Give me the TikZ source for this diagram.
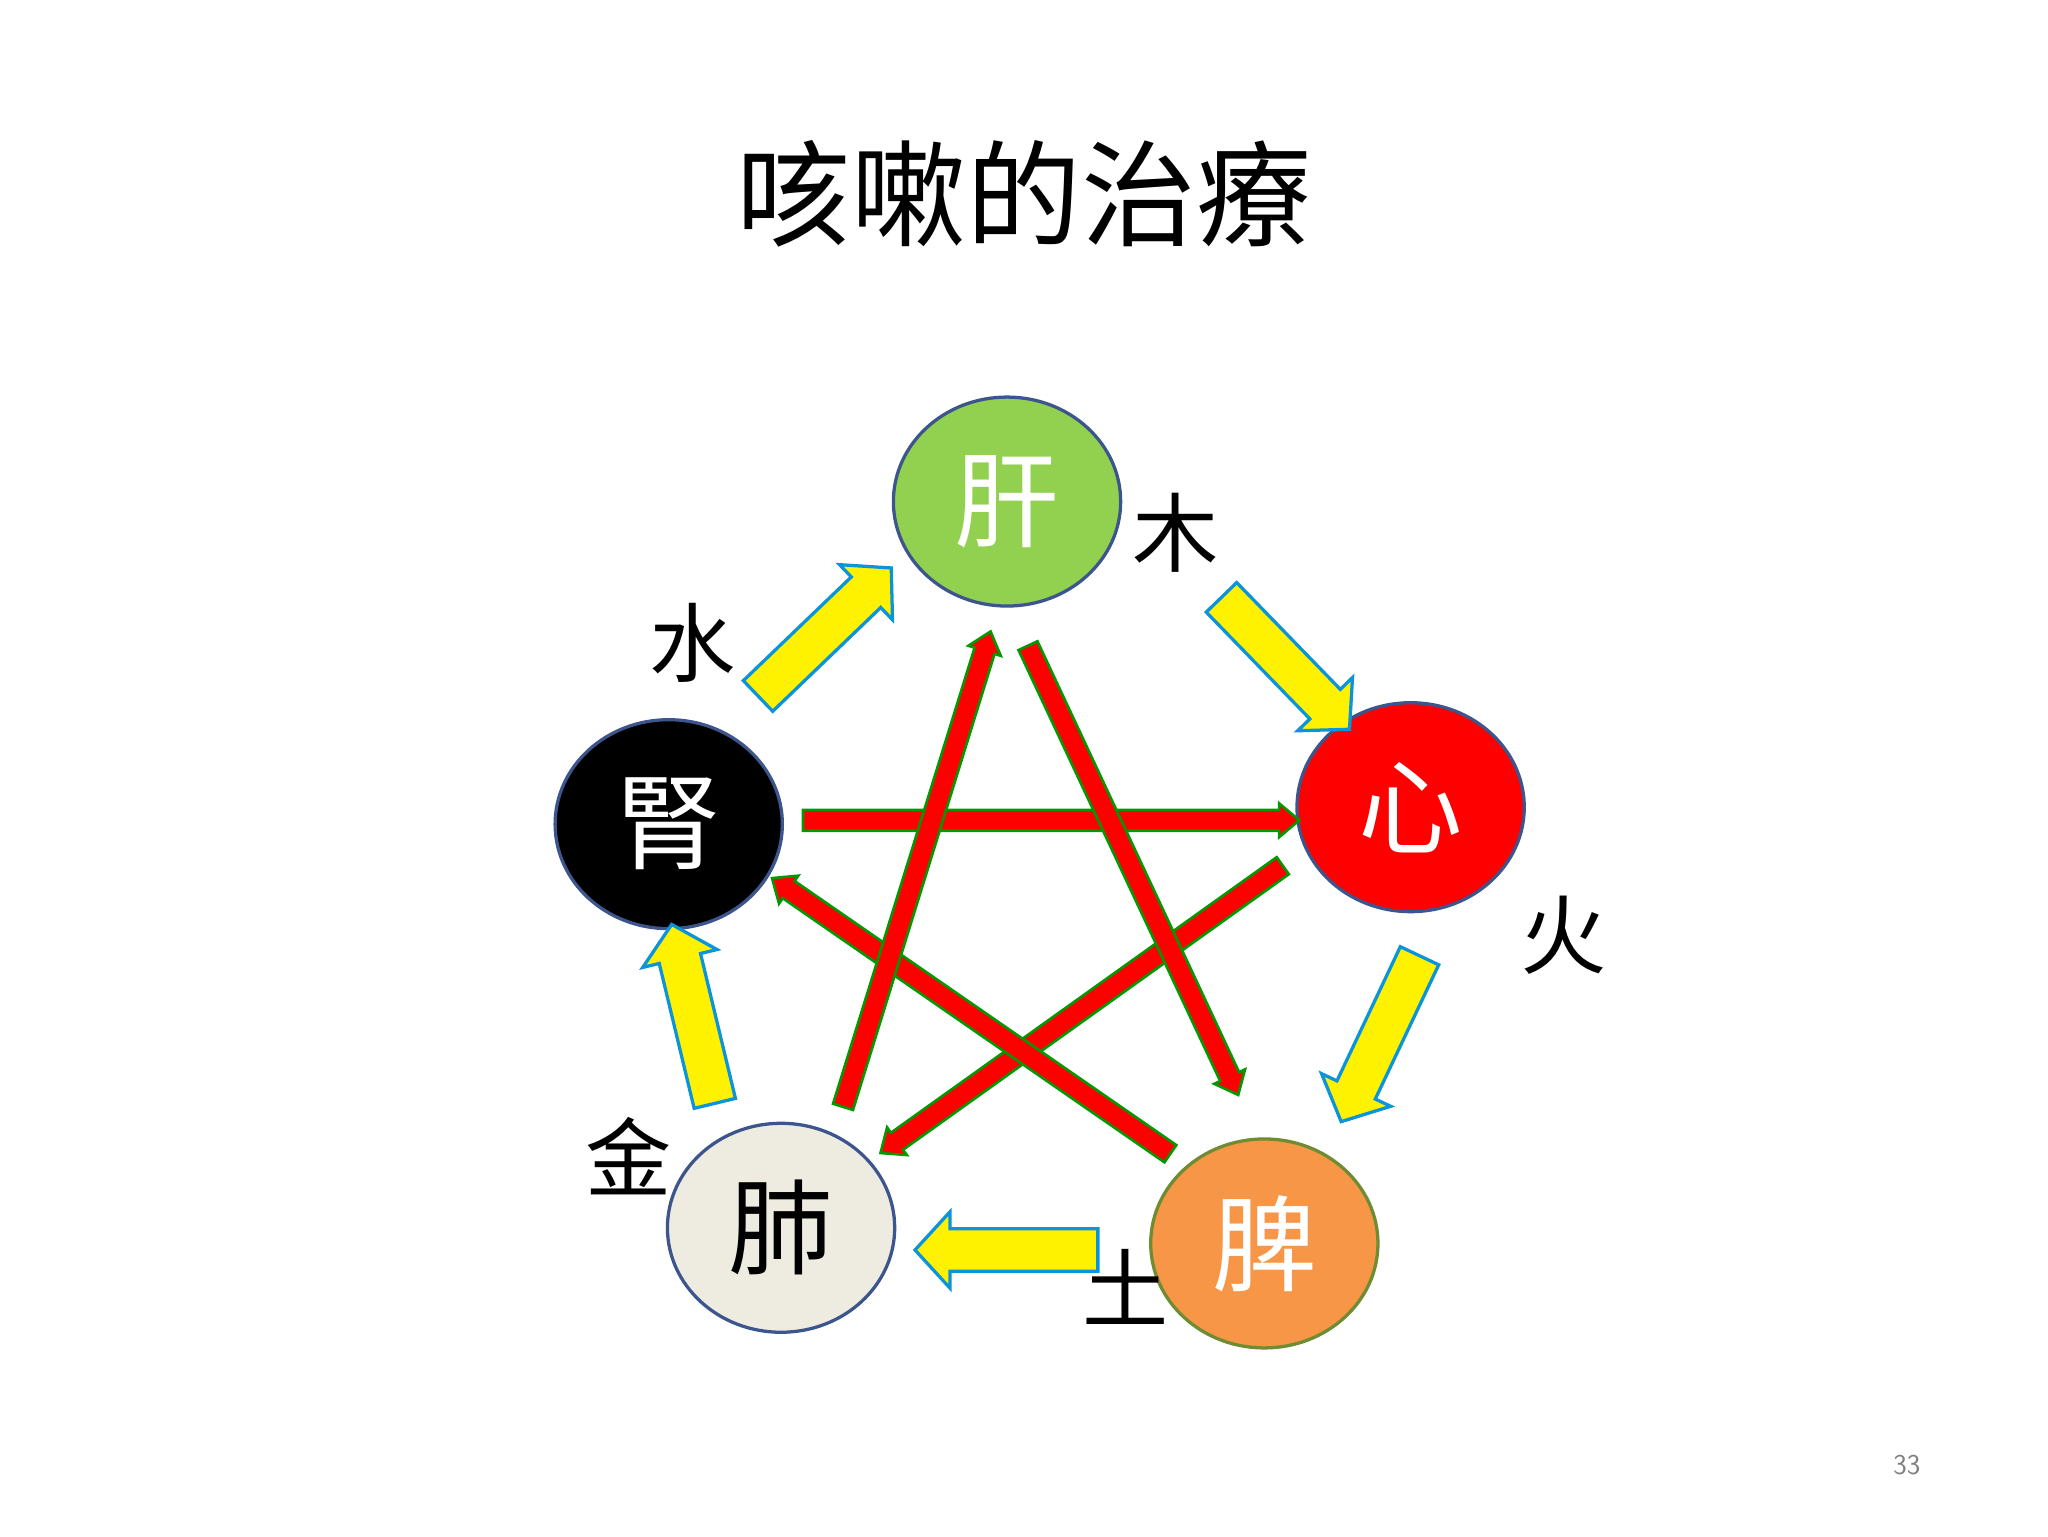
\documentclass[tikz,border=0pt]{standalone}
\usepackage{fontspec}
\newfontfamily\cjk{Noto Sans CJK SC}
\usetikzlibrary{shapes.arrows,shapes.geometric,calc}
\definecolor{gangreen}{RGB}{146,208,80}
\definecolor{rimblue}{RGB}{60,85,140}
\definecolor{fei}{RGB}{238,236,225}
\definecolor{piorange}{RGB}{247,150,70}
\definecolor{pirim}{RGB}{110,140,50}
\tikzset{
organ/.style={ellipse,minimum width=174pt,minimum height=160pt,draw=rimblue,line width=2.5pt,font=\cjk\fontsize{80}{80}\selectfont},
elem/.style={font=\cjk\fontsize{66}{66}\selectfont},
yarr/.style={single arrow,fill=yellow,draw=cyan!80!blue,line width=2.5pt,inner xsep=0pt,inner ysep=15pt,single arrow head extend=13pt,single arrow tip angle=95},
rarr/.style={single arrow,fill=red,draw=green!60!black,line width=2pt,inner xsep=0pt,inner ysep=7pt,single arrow head extend=5pt,single arrow tip angle=80},
}
\newcommand{\barrow}[3]{\path let \p1=($(#3)-(#2)$), \n1={atan2(\y1,\x1)}, \n2={veclen(\x1,\y1)} in node[#1,minimum height=\n2,rotate=\n1] at ($(#2)!0.5!(#3)$) {};}
\begin{document}
\begin{tikzpicture}[x=1pt,y=-1pt]
\useasboundingbox[fill=white] (0,0) rectangle (1568,1176);
\node[font=\cjk\fontsize{88}{88}\selectfont] (title) at (784,148) {咳嗽的治療};
\node[organ,fill=gangreen,text=white] (gan) at (771,384) {肝};
\node[organ,fill=red,text=white] (xin) at (1080,618) {心};
\node[organ,fill=black,text=white] (shen) at (512,631) {腎};
\node[organ,fill=fei,text=black] (feinode) at (598,940) {肺};
\node[organ,fill=piorange,draw=pirim,text=white] (pi) at (968,952) {脾};
\node[elem] (mu) at (900,408) {木};
\node[elem] (huo) at (1197,716) {火};
\node[elem] (tu) at (862,985) {土};
\node[elem] (jin) at (481,885) {金};
\node[elem] (shui) at (530,492) {水};
\node[text=black!50,font=\sffamily\fontsize{22}{22}\selectfont] (pg) at (1460,1122) {33};
% yellow arrows
\coordinate (y1a) at (575,538); \coordinate (y1b) at (677,440);
\coordinate (y2a) at (930,452); \coordinate (y2b) at (1028,553);
\coordinate (y3a) at (1090,725); \coordinate (y3b) at (1030,852);
\coordinate (y4a) at (848,957); \coordinate (y4b) at (708,957);
\coordinate (y5a) at (549,852); \coordinate (y5b) at (516,715);
\barrow{yarr}{y1a}{y1b}
\barrow{yarr}{y2a}{y2b}
\barrow{yarr}{y3a}{y3b}
\barrow{yarr}{y4a}{y4b}
\barrow{yarr}{y5a}{y5b}
% red arrows
\coordinate (r1a) at (610,628); \coordinate (r1b) at (990,628);
\coordinate (r2a) at (986,660); \coordinate (r2b) at (678,880);
\coordinate (r3a) at (900,886); \coordinate (r3b) at (595,675);
\coordinate (r4a) at (644,852); \coordinate (r4b) at (757,488);
\coordinate (r5a) at (785,490); \coordinate (r5b) at (946,834);
\barrow{rarr}{r1a}{r1b}
\barrow{rarr}{r2a}{r2b}
\barrow{rarr}{r3a}{r3b}
\barrow{rarr}{r4a}{r4b}
\barrow{rarr}{r5a}{r5b}
\end{tikzpicture}
\end{document}
